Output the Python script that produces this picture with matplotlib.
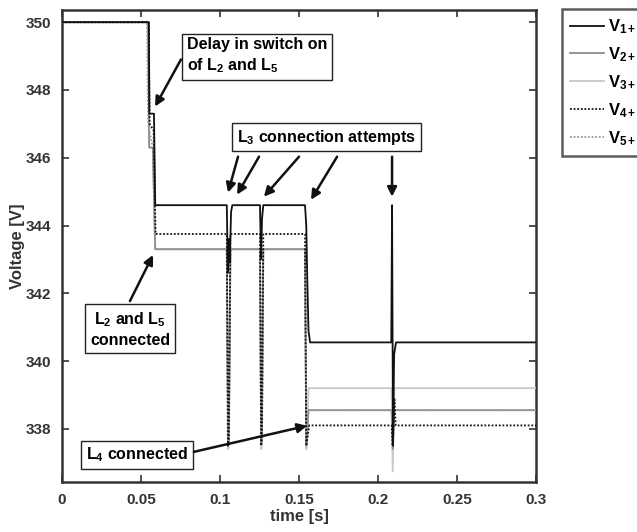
import matplotlib
matplotlib.use("Agg")
import matplotlib.pyplot as plt

plt.rcParams['font.family'] = ['Liberation Sans', 'DejaVu Sans']
plt.rcParams['font.weight'] = 'bold'
plt.rcParams['mathtext.fontset'] = 'custom'
plt.rcParams['mathtext.rm'] = 'Liberation Sans:bold'
plt.rcParams['mathtext.bf'] = 'Liberation Sans:bold'
plt.rcParams['mathtext.it'] = 'Liberation Sans:bold'
plt.rcParams['mathtext.default'] = 'bf'

# ---- data ----
t1 = [0, 0.0550, 0.0553, 0.0582, 0.0590, 0.1043, 0.1050, 0.1056, 0.1062, 0.1070, 0.1078,
      0.1253, 0.1260, 0.1266, 0.1274, 0.1538, 0.1546, 0.1552, 0.1560, 0.1570,
      0.2084, 0.2089, 0.2095, 0.2102, 0.2114, 0.3]
v1 = [350, 350, 347.3, 347.3, 344.6, 344.6, 342.6, 343.6, 342.9, 344.4, 344.6,
      344.6, 343.0, 344.2, 344.6, 344.6, 344.0, 342.5, 340.9, 340.55,
      340.55, 344.6, 337.5, 340.2, 340.55, 340.55]

t2 = [0, 0.0545, 0.0552, 0.0575, 0.0590, 0.1043, 0.1052, 0.1056, 0.1066,
      0.1253, 0.1261, 0.1265, 0.1274, 0.1538, 0.1546, 0.1550, 0.1560,
      0.2086, 0.2093, 0.2104, 0.3]
v2 = [350, 350, 346.3, 346.3, 343.3, 343.3, 337.6, 337.8, 343.3,
      343.3, 337.6, 337.8, 343.3, 343.3, 337.6, 337.8, 338.55,
      338.55, 337.4, 338.55, 338.55]

t3 = [0, 0.0545, 0.0552, 0.0575, 0.0590, 0.1043, 0.1052, 0.1056, 0.1066,
      0.1253, 0.1261, 0.1265, 0.1274, 0.1538, 0.1546, 0.1550, 0.1560,
      0.2086, 0.2093, 0.2104, 0.3]
v3 = [350, 350, 346.3, 346.3, 343.3, 343.3, 337.4, 337.5, 343.3,
      343.3, 337.4, 337.5, 343.3, 343.3, 337.4, 337.5, 339.2,
      339.2, 336.75, 339.2, 339.2]

t4 = [0, 0.0548, 0.0555, 0.0580, 0.0592, 0.1043, 0.1050, 0.1056, 0.1066,
      0.1253, 0.1260, 0.1265, 0.1274, 0.1538, 0.1546, 0.1552, 0.1565,
      0.2086, 0.2093, 0.2104, 0.2112, 0.3]
v4 = [350, 350, 347.0, 346.8, 343.75, 343.75, 337.5, 337.7, 343.75,
      343.75, 337.5, 337.7, 343.75, 343.75, 337.5, 337.7, 338.1,
      338.1, 337.5, 338.9, 338.1, 338.1]

t5 = [0, 0.0538, 0.0545, 0.0575, 0.0590, 0.1043, 0.1051, 0.1057, 0.1066,
      0.1253, 0.1261, 0.1266, 0.1274, 0.1538, 0.1546, 0.1551, 0.1560,
      0.2086, 0.2093, 0.2102, 0.3]
v5 = [350, 350, 347.0, 346.3, 343.3, 343.3, 337.5, 337.6, 343.3,
      343.3, 337.5, 337.6, 343.3, 343.3, 337.5, 337.6, 338.55,
      338.55, 337.5, 338.55, 338.55]

labels = ['V$_{1+}$', 'V$_{2+}$', 'V$_{3+}$', 'V$_{4+}$', 'V$_{5+}$']
xticks = [0, 0.05, 0.1, 0.15, 0.2, 0.25, 0.3]
xticklabels = ['0', '0.05', '0.1', '0.15', '0.2', '0.25', '0.3']
yticks = [338, 340, 342, 344, 346, 348, 350]

fig = plt.figure(figsize=(6.37, 5.32), dpi=100)
ax = fig.add_axes([62/637, 1-482/532, (536-62)/637, (482-10)/532])

axcol = '#333333'
h1, = ax.plot(t1, v1, color='#111111', lw=1.3, zorder=5, label=labels[0])
h2, = ax.plot(t2, v2, color='#8c8c8c', lw=1.3, zorder=4, label=labels[1])
h3, = ax.plot(t3, v3, color='#c8c8c8', lw=1.3, zorder=3, label=labels[2])
h4, = ax.plot(t4, v4, color='#111111', lw=1.3, ls=(0, (1, 1)), zorder=6, label=labels[3])
h5, = ax.plot(t5, v5, color='#999999', lw=1.3, ls=(0, (1, 1)), zorder=4.5, label=labels[4])

ax.set_xlim(0, 0.3)
ax.set_ylim(336.43, 350.36)
ax.set_xticks(xticks)
ax.set_xticklabels(xticklabels)
ax.set_yticks(yticks)
ax.tick_params(direction='in', length=5, width=1.2, top=True, right=True,
               colors=axcol, labelsize=11, pad=8)
for lab in ax.get_xticklabels() + ax.get_yticklabels():
    lab.set_fontweight('bold')
for s in ax.spines.values():
    s.set_linewidth(1.8)
    s.set_color(axcol)
ax.set_xlabel('time [s]', fontsize=12, fontweight='bold', color=axcol, labelpad=1)
ax.set_ylabel('Voltage [V]', fontsize=12, fontweight='bold', color=axcol, labelpad=0)

bbox = dict(boxstyle='square,pad=0.3', fc='white', ec='#222222', lw=1.0)
arrow = dict(arrowstyle='-|>', color='#111111', lw=1.8, mutation_scale=14, shrinkA=0, shrinkB=0)
fs = 11.5

ax.text(0.0790, 349.0, 'Delay in switch on\nof L$_2$ and L$_5$', ha='left', va='center',
        fontsize=fs, fontweight='bold', bbox=bbox, zorder=10, linespacing=1.3)
ax.annotate('', xy=(0.0589, 347.51), xytext=(0.0753, 348.9), arrowprops=arrow, zorder=10)

ax.text(0.1674, 346.61, 'L$_3$ connection attempts', ha='center', va='center', fontsize=fs,
        fontweight='bold', bbox=bbox, zorder=10)
for (x0, x1, y1) in [(0.1114, 0.1051, 344.97), (0.1247, 0.1108, 344.91),
                     (0.1500, 0.1278, 344.85), (0.1741, 0.1576, 344.76),
                     (0.2089, 0.2089, 344.85)]:
    ax.annotate('', xy=(x1, y1), xytext=(x0, 346.03), arrowprops=arrow, zorder=10)

ax.text(0.0430, 340.94, 'L$_2$ and L$_5$\nconnected', ha='center', va='center', fontsize=fs,
        fontweight='bold', bbox=bbox, zorder=10, linespacing=1.3)
ax.annotate('', xy=(0.0576, 343.13), xytext=(0.0430, 341.77), arrowprops=arrow, zorder=10)

ax.text(0.0475, 337.23, 'L$_4$ connected', ha='center', va='center', fontsize=fs,
        fontweight='bold', bbox=bbox, zorder=10)
ax.annotate('', xy=(0.1551, 338.09), xytext=(0.0835, 337.32), arrowprops=arrow, zorder=10)

leg = fig.legend(handles=[h1, h2, h3, h4, h5], loc='upper left',
                 bbox_to_anchor=(562/637, 1-9/532), fontsize=12, frameon=True,
                 fancybox=False, handlelength=2.0, handletextpad=0.25,
                 labelspacing=0.55, borderpad=0.5, borderaxespad=0)
leg.get_frame().set_edgecolor(axcol)
leg.get_frame().set_linewidth(1.8)
for tx in leg.get_texts():
    tx.set_fontweight('bold')

fig.savefig('out.png', dpi=100)
